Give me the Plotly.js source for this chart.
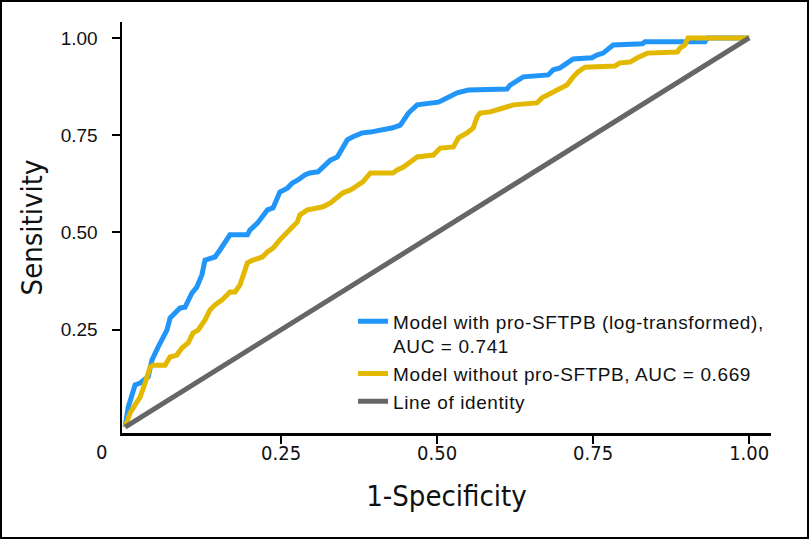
<!DOCTYPE html>
<html>
<head>
<meta charset="utf-8">
<script src="https://cdn.plot.ly/plotly-3.0.1.min.js"></script>
<style>
html,body{margin:0;padding:0;background:#fff;}
#wrap{position:relative;width:809px;height:539px;}
#chart{width:809px;height:539px;}
#frame{position:absolute;left:0;top:0;width:809px;height:539px;box-sizing:border-box;border:2px solid #000;pointer-events:none;}
.legendtext{letter-spacing:0.6px;}
</style>
</head>
<body>
<div id="wrap"><div id="chart"></div><div id="frame"></div></div>
<script>
// Model with pro-SFTPB (log-transformed)
var withFpr = [0,0.005,0.016,0.024,0.037,0.043,0.053,0.067,0.072,0.080,0.088,0.096,0.107,0.115,0.123,0.128,0.136,0.144,0.152,0.160,0.168,0.196,0.200,0.212,0.220,0.228,0.237,0.248,0.260,0.268,0.277,0.288,0.296,0.309,0.317,0.329,0.340,0.349,0.356,0.365,0.380,0.393,0.413,0.429,0.441,0.454,0.468,0.486,0.502,0.510,0.524,0.532,0.550,0.612,0.617,0.638,0.678,0.686,0.697,0.708,0.718,0.748,0.756,0.766,0.777,0.782,0.829,0.833,0.929,0.933,1.0];
var withTpr = [0,0.051,0.108,0.113,0.129,0.172,0.206,0.249,0.280,0.293,0.306,0.308,0.344,0.360,0.391,0.429,0.434,0.437,0.455,0.476,0.494,0.494,0.506,0.524,0.540,0.558,0.563,0.604,0.614,0.627,0.635,0.648,0.653,0.656,0.668,0.686,0.694,0.717,0.738,0.746,0.756,0.758,0.763,0.769,0.776,0.807,0.828,0.833,0.835,0.841,0.853,0.859,0.866,0.869,0.879,0.900,0.905,0.918,0.923,0.936,0.946,0.949,0.956,0.961,0.974,0.982,0.985,0.990,0.990,1.0,1.0];
// Model without pro-SFTPB
var withoutFpr = [0,0.008,0.016,0.024,0.032,0.040,0.045,0.064,0.072,0.083,0.091,0.101,0.109,0.117,0.128,0.136,0.144,0.155,0.168,0.176,0.184,0.192,0.196,0.205,0.220,0.228,0.237,0.248,0.260,0.268,0.276,0.280,0.292,0.308,0.317,0.329,0.340,0.349,0.361,0.372,0.381,0.393,0.429,0.436,0.446,0.457,0.468,0.494,0.505,0.526,0.534,0.548,0.558,0.564,0.569,0.585,0.593,0.606,0.622,0.660,0.668,0.684,0.697,0.708,0.718,0.726,0.737,0.785,0.793,0.809,0.821,0.829,0.837,0.885,0.889,0.897,0.902,1.0];
var withoutTpr = [0,0.036,0.057,0.077,0.113,0.154,0.159,0.159,0.180,0.185,0.203,0.216,0.242,0.249,0.275,0.301,0.314,0.326,0.347,0.347,0.365,0.404,0.422,0.429,0.437,0.450,0.460,0.481,0.499,0.514,0.527,0.545,0.558,0.563,0.566,0.576,0.591,0.602,0.609,0.622,0.630,0.653,0.653,0.661,0.668,0.681,0.694,0.699,0.717,0.720,0.743,0.756,0.769,0.797,0.807,0.810,0.815,0.820,0.828,0.833,0.846,0.859,0.871,0.879,0.900,0.913,0.925,0.928,0.936,0.938,0.949,0.956,0.961,0.964,0.974,0.982,1.0,1.0];
// Line of identity
var identityX = [0, 1];
var identityY = [0, 1];

var xTickVals = [0.25, 0.5, 0.75, 1.0];
var xTickText = ['0.25', '0.50', '0.75', '1.00'];
var yTickVals = [0.25, 0.5, 0.75, 1.0];
var yTickText = ['0.25', '0.50', '0.75', '1.00'];

var names = ['Model with pro-SFTPB (log-transformed),<br>AUC = 0.741', 'Model without pro-SFTPB, AUC = 0.669', 'Line of identity'];
var colors = ['#2196F8', '#E3B800', '#666666'];

var condensed = '"Liberation Sans Narrow", "DejaVu Sans Condensed", "Roboto Condensed", sans-serif';
var regular = '"Liberation Sans", Arial, Helvetica, sans-serif';

var traces = [
  {x: withFpr, y: withTpr, mode: 'lines', name: names[0], line: {color: colors[0], width: 5}},
  {x: withoutFpr, y: withoutTpr, mode: 'lines', name: names[1], line: {color: colors[1], width: 5}},
  {x: identityX, y: identityY, mode: 'lines', name: names[2], line: {color: colors[2], width: 5}}
];

var layout = {
  width: 809, height: 539,
  margin: {l: 122, r: 38, t: 22, b: 106},
  paper_bgcolor: '#fff', plot_bgcolor: '#fff',
  showlegend: true,
  legend: {x: 0.356, y: 0.318, xanchor: 'left', yanchor: 'top', valign: 'top',
           font: {family: regular, size: 19, color: '#111'}, bgcolor: 'rgba(0,0,0,0)', tracegroupgap: 0},
  xaxis: {
    range: [-0.005, 1.035], showgrid: false, zeroline: false,
    showline: true, linecolor: '#000', linewidth: 2.5,
    ticks: 'outside', ticklen: 8, tickwidth: 2, tickcolor: '#000',
    tickvals: xTickVals, ticktext: xTickText,
    tickfont: {family: condensed, size: 20, color: '#111'},
    ticklabelstandoff: -8,
    title: {text: '1-Specificity', font: {family: condensed, size: 29, color: '#111'}, standoff: 22}
  },
  yaxis: {
    range: [-0.0154, 1.041], showgrid: false, zeroline: false,
    showline: true, linecolor: '#000', linewidth: 2.5,
    ticks: 'outside', ticklen: 8, tickwidth: 2, tickcolor: '#000',
    tickvals: yTickVals, ticktext: yTickText,
    tickfont: {family: regular, size: 19, color: '#111'},
    ticklabelstandoff: 10,
    title: {text: 'Sensitivity', font: {family: condensed, size: 29, color: '#111'}, standoff: 10}
  },
  annotations: [
    {text: '0', xref: 'paper', yref: 'paper', x: (101 - 122) / 649, y: -(452 - 433) / 411,
     xanchor: 'center', yanchor: 'middle', showarrow: false,
     font: {family: condensed, size: 20, color: '#111'}}
  ]
};

Plotly.newPlot('chart', traces, layout, {displayModeBar: false, staticPlot: true});
</script>
</body>
</html>
